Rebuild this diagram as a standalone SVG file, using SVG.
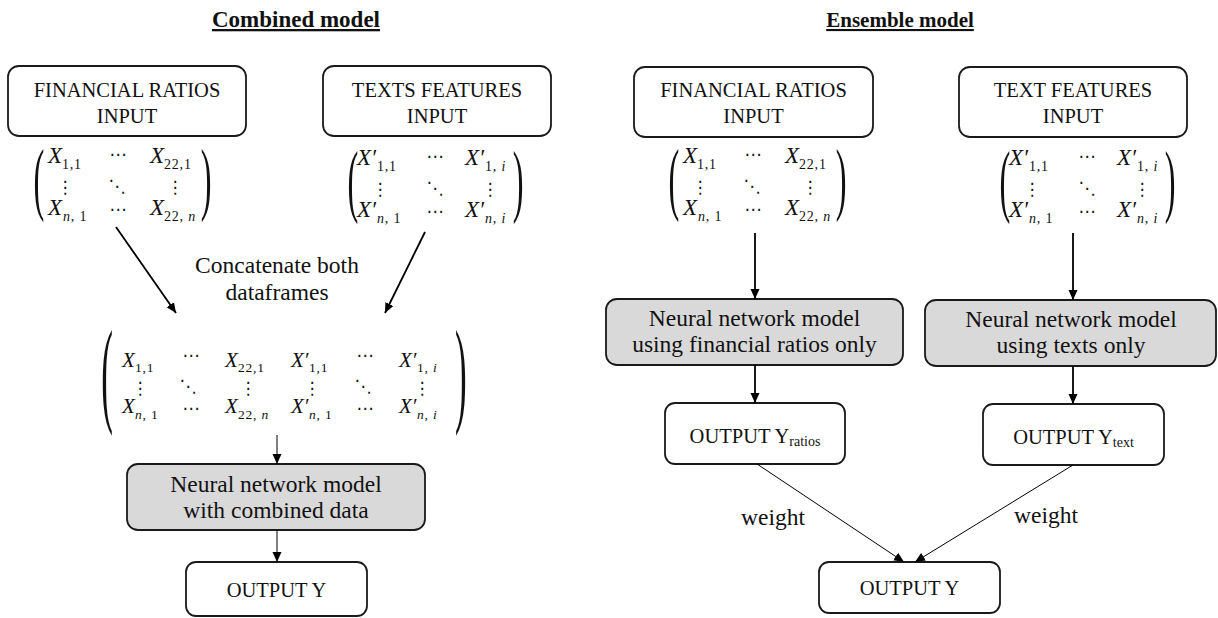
<svg xmlns="http://www.w3.org/2000/svg" width="1218" height="618" viewBox="0 0 1218 618">
<defs>
<style>
text{font-family:"Liberation Serif","DejaVu Serif",serif;fill:#111}
.box{fill:#fff;stroke:#1a1a1a;stroke-width:1.8}
.nn{fill:#d9d9d9;stroke:#1a1a1a;stroke-width:1.8}
.cap{font-size:20.5px;text-anchor:middle}
.low{font-size:23.5px;text-anchor:middle}
.title{font-size:23px;font-weight:bold;text-anchor:middle;text-decoration:underline}
.m{font-size:23px;font-style:italic}
.mb{font-size:21px;font-style:italic}
.sb{font-size:14px;letter-spacing:0.8px}
.sbb{font-size:13.5px;letter-spacing:0.8px}
.it{font-style:italic}
.dt{font-family:"DejaVu Sans",sans-serif;font-size:17px;text-anchor:middle}
.par{font-family:"Liberation Serif",serif}
.conn{stroke:#000;stroke-width:1.8;fill:none}
.thin{stroke:#000;stroke-width:1;fill:none}
</style>
<marker id="ah" viewBox="0 0 10 10" refX="10" refY="5" markerWidth="10" markerHeight="10" markerUnits="userSpaceOnUse" orient="auto">
<path d="M0,0.5 L10,5 L0,9.5 z" fill="#000"/>
</marker>
</defs>
<rect width="1218" height="618" fill="#fff"/>

<text class="title" x="296" y="27">Combined model</text>
<text class="title" x="900" y="27" style="font-size:21px">Ensemble model</text>

<!-- Combined model nodes -->
<g id="c-fin-input">
<rect class="box" x="8" y="66" width="238" height="70" rx="11"/>
<text class="cap" x="127" y="97">FINANCIAL RATIOS</text>
<text class="cap" x="127" y="123">INPUT</text>
</g>
<g id="c-text-input">
<rect class="box" x="323" y="66" width="228" height="70" rx="11"/>
<text class="cap" x="437" y="97">TEXTS FEATURES</text>
<text class="cap" x="437" y="123">INPUT</text>
</g>

<g id="c-fin-matrix">
<text class="par" font-size="81" transform="translate(33.4,204.7) scale(0.4,1)">(</text>
<text class="par" font-size="81" transform="translate(200.8,204.7) scale(0.4,1)">)</text>
<text class="m" x="48" y="163">X</text><text class="sb" x="62" y="169">1,1</text>
<text class="dt" x="118" y="160">⋯</text>
<text class="m" x="150" y="163">X</text><text class="sb" x="164" y="169">22,1</text>
<text class="dt" x="65" y="193">⋮</text>
<text class="dt" x="117" y="192">⋱</text>
<text class="dt" x="175" y="193">⋮</text>
<text class="m" x="48" y="215">X</text><text class="sb" x="63" y="221"><tspan class="it">n</tspan>, 1</text>
<text class="dt" x="118" y="215">⋯</text>
<text class="m" x="150" y="215">X</text><text class="sb" x="164" y="221">22, <tspan class="it">n</tspan></text>
</g>

<g id="c-text-matrix">
<text class="par" font-size="81" transform="translate(347.4,206.7) scale(0.4,1)">(</text>
<text class="par" font-size="81" transform="translate(512.8,206.7) scale(0.4,1)">)</text>
<text class="m" x="357" y="165">X′</text><text class="sb" x="377" y="171">1,1</text>
<text class="dt" x="435" y="162">⋯</text>
<text class="m" x="465" y="165">X′</text><text class="sb" x="485" y="171">1, <tspan class="it">i</tspan></text>
<text class="dt" x="380" y="195">⋮</text>
<text class="dt" x="435" y="194">⋱</text>
<text class="dt" x="490" y="195">⋮</text>
<text class="m" x="357" y="217">X′</text><text class="sb" x="377" y="223"><tspan class="it">n</tspan>, 1</text>
<text class="dt" x="435" y="217">⋯</text>
<text class="m" x="465" y="217">X′</text><text class="sb" x="485" y="223"><tspan class="it">n</tspan>, <tspan class="it">i</tspan></text>
</g>

<text class="low" x="277" y="273">Concatenate both</text>
<text class="low" x="277" y="300">dataframes</text>

<g id="c-combined-matrix">
<text class="par" font-size="117" transform="translate(101.3,411.3) scale(0.3,1)">(</text>
<text class="par" font-size="117" transform="translate(455,411.3) scale(0.3,1)">)</text>
<text class="mb" x="122" y="367">X</text><text class="sbb" x="135" y="372">1,1</text>
<text class="dt" x="191" y="361">⋯</text>
<text class="mb" x="225" y="367">X</text><text class="sbb" x="238" y="372">22,1</text>
<text class="mb" x="291" y="367">X′</text><text class="sbb" x="309" y="372">1,1</text>
<text class="dt" x="365" y="361">⋯</text>
<text class="mb" x="399" y="367">X′</text><text class="sbb" x="417" y="372">1, <tspan class="it">i</tspan></text>
<text class="dt" x="140" y="394">⋮</text>
<text class="dt" x="188" y="392">⋱</text>
<text class="dt" x="248" y="394">⋮</text>
<text class="dt" x="312" y="394">⋮</text>
<text class="dt" x="363" y="392">⋱</text>
<text class="dt" x="422" y="394">⋮</text>
<text class="mb" x="122" y="413">X</text><text class="sbb" x="135" y="419"><tspan class="it">n</tspan>, 1</text>
<text class="dt" x="191" y="414">⋯</text>
<text class="mb" x="225" y="413">X</text><text class="sbb" x="238" y="419">22, <tspan class="it">n</tspan></text>
<text class="mb" x="291" y="413">X′</text><text class="sbb" x="309" y="419"><tspan class="it">n</tspan>, 1</text>
<text class="dt" x="365" y="414">⋯</text>
<text class="mb" x="399" y="413">X′</text><text class="sbb" x="417" y="419"><tspan class="it">n</tspan>, <tspan class="it">i</tspan></text>
</g>

<g id="c-nn">
<rect class="nn" x="127" y="464" width="298" height="66" rx="11"/>
<text class="low" x="276" y="492">Neural network model</text>
<text class="low" x="276" y="518">with combined data</text>
</g>
<g id="c-output">
<rect class="box" x="186" y="562" width="181" height="54" rx="10"/>
<text class="cap" x="276.5" y="597">OUTPUT Y</text>
</g>

<!-- Ensemble model nodes -->
<g id="e-fin-input">
<rect class="box" x="634" y="67" width="239" height="70" rx="11"/>
<text class="cap" x="753.5" y="97">FINANCIAL RATIOS</text>
<text class="cap" x="753.5" y="123">INPUT</text>
</g>
<g id="e-text-input">
<rect class="box" x="959" y="67" width="228" height="70" rx="11"/>
<text class="cap" x="1073" y="97">TEXT FEATURES</text>
<text class="cap" x="1073" y="123">INPUT</text>
</g>

<g id="e-fin-matrix" transform="translate(635,0)">
<text class="par" font-size="81" transform="translate(33.4,204.7) scale(0.4,1)">(</text>
<text class="par" font-size="81" transform="translate(200.8,204.7) scale(0.4,1)">)</text>
<text class="m" x="48" y="163">X</text><text class="sb" x="62" y="169">1,1</text>
<text class="dt" x="118" y="160">⋯</text>
<text class="m" x="150" y="163">X</text><text class="sb" x="164" y="169">22,1</text>
<text class="dt" x="65" y="193">⋮</text>
<text class="dt" x="117" y="192">⋱</text>
<text class="dt" x="175" y="193">⋮</text>
<text class="m" x="48" y="215">X</text><text class="sb" x="63" y="221"><tspan class="it">n</tspan>, 1</text>
<text class="dt" x="118" y="215">⋯</text>
<text class="m" x="150" y="215">X</text><text class="sb" x="164" y="221">22, <tspan class="it">n</tspan></text>
</g>

<g id="e-text-matrix" transform="translate(652,0)">
<text class="par" font-size="81" transform="translate(347.4,206.7) scale(0.4,1)">(</text>
<text class="par" font-size="81" transform="translate(512.8,206.7) scale(0.4,1)">)</text>
<text class="m" x="357" y="165">X′</text><text class="sb" x="377" y="171">1,1</text>
<text class="dt" x="435" y="162">⋯</text>
<text class="m" x="465" y="165">X′</text><text class="sb" x="485" y="171">1, <tspan class="it">i</tspan></text>
<text class="dt" x="380" y="195">⋮</text>
<text class="dt" x="435" y="194">⋱</text>
<text class="dt" x="490" y="195">⋮</text>
<text class="m" x="357" y="217">X′</text><text class="sb" x="377" y="223"><tspan class="it">n</tspan>, 1</text>
<text class="dt" x="435" y="217">⋯</text>
<text class="m" x="465" y="217">X′</text><text class="sb" x="485" y="223"><tspan class="it">n</tspan>, <tspan class="it">i</tspan></text>
</g>

<g id="e-nn-fin">
<rect class="nn" x="606" y="299" width="297" height="66" rx="11"/>
<text class="low" x="754.5" y="326">Neural network model</text>
<text class="low" x="754.5" y="352">using financial ratios only</text>
</g>
<g id="e-nn-text">
<rect class="nn" x="925" y="300" width="291" height="66" rx="11"/>
<text class="low" x="1071" y="327">Neural network model</text>
<text class="low" x="1071" y="353">using texts only</text>
</g>
<g id="e-out-ratios">
<rect class="box" x="665" y="403" width="180" height="61" rx="10"/>
<text class="cap" x="755" y="443">OUTPUT Y<tspan font-size="14" dy="3">ratios</tspan></text>
</g>
<g id="e-out-text">
<rect class="box" x="983" y="404" width="181" height="61" rx="10"/>
<text class="cap" x="1073.5" y="444">OUTPUT Y<tspan font-size="14" dy="3">text</tspan></text>
</g>
<g id="e-output">
<rect class="box" x="819" y="562" width="181" height="51" rx="10"/>
<text class="cap" x="909.5" y="595">OUTPUT Y</text>
</g>

<text class="low" x="773" y="525">weight</text>
<text class="low" x="1046" y="523">weight</text>

<g id="connectors">
<line class="conn" x1="116" y1="227" x2="176" y2="313" marker-end="url(#ah)"/>
<line class="conn" x1="425" y1="232" x2="385" y2="313" marker-end="url(#ah)"/>
<line class="thin" x1="277" y1="435" x2="277" y2="464" marker-end="url(#ah)"/>
<line class="thin" x1="277" y1="530" x2="277" y2="562" marker-end="url(#ah)"/>
<line class="conn" x1="755" y1="233" x2="755" y2="299" marker-end="url(#ah)"/>
<line class="conn" x1="1073" y1="233" x2="1073" y2="300" marker-end="url(#ah)"/>
<line class="conn" x1="755" y1="365" x2="755" y2="403" marker-end="url(#ah)"/>
<line class="conn" x1="1073" y1="366" x2="1073" y2="404" marker-end="url(#ah)"/>
<line class="thin" x1="757" y1="464" x2="904" y2="562" marker-end="url(#ah)"/>
<line class="thin" x1="1073" y1="465" x2="915" y2="562" marker-end="url(#ah)"/>
</g>
</svg>
